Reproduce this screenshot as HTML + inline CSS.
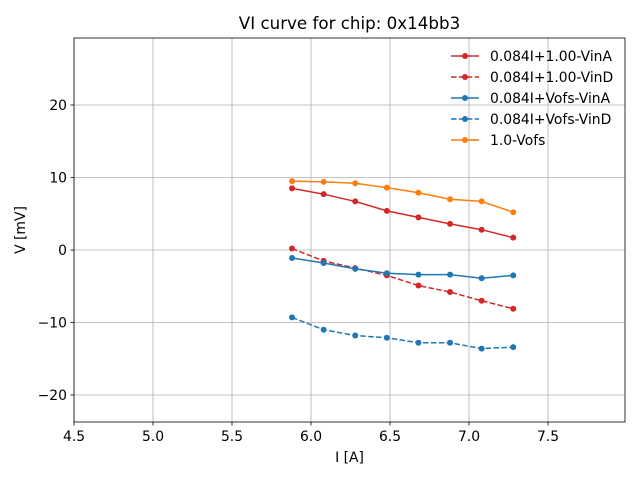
<!DOCTYPE html>
<html><head><meta charset="utf-8"><style>
body{margin:0;background:#fff;}
svg text{font-family:"DejaVu Sans","Liberation Sans",sans-serif;}
</style></head><body>
<svg id="chart" width="640" height="480" xmlns="http://www.w3.org/2000/svg">
<rect width="640" height="480" fill="#fff"/>
<g id="grid"></g>
<g id="series"></g>
<rect x="74" y="38" width="551" height="384" fill="none" stroke="#000" stroke-width="0.8"/>
<g id="ticks"></g>
<text x="349.5" y="29" font-size="16.7" text-anchor="middle">VI curve for chip: 0x14bb3</text>
<text x="349.5" y="462" font-size="13.9" text-anchor="middle">I [A]</text>
<text x="25" y="230" font-size="13.9" text-anchor="middle" transform="rotate(-90 25 230)">V [mV]</text>
<g id="legend"></g>
</svg>
<script>
const xs = [5.88, 6.08, 6.28, 6.48, 6.68, 6.88, 7.08, 7.28];
const redSolid = [8.5, 7.7, 6.7, 5.4, 4.5, 3.6, 2.8, 1.7];
const redDashed = [0.2, -1.5, -2.5, -3.5, -4.9, -5.8, -7.0, -8.1];
const blueSolid = [-1.1, -1.8, -2.6, -3.2, -3.4, -3.4, -3.9, -3.5];
const blueDashed = [-9.3, -11.0, -11.8, -12.1, -12.8, -12.8, -13.6, -13.4];
const orange = [9.5, 9.4, 9.2, 8.6, 7.9, 7.0, 6.7, 5.2];
const seriesNames = ["0.084I+1.00-VinA", "0.084I+1.00-VinD", "0.084I+Vofs-VinA", "0.084I+Vofs-VinD", "1.0-Vofs"];
const xTicks = [4.5, 5.0, 5.5, 6.0, 6.5, 7.0, 7.5];
const yTicks = [-20, -10, 0, 10, 20];

const X0=74, X1=625, Y0=38, Y1=422;
const xmin=4.5, xmax=4.5+551/158;
const ymin=-(422-250)/7.25, ymax=(250-38)/7.25;
const sx = v => X0 + (v-xmin)/(xmax-xmin)*(X1-X0);
const sy = v => Y1 - (v-ymin)/(ymax-ymin)*(Y1-Y0);
const NS="http://www.w3.org/2000/svg";
function mk(tag, attrs, parent){const e=document.createElementNS(NS,tag);for(const k in attrs)e.setAttribute(k,attrs[k]);parent.appendChild(e);return e;}
const grid=document.getElementById('grid'), ticks=document.getElementById('ticks');
xTicks.forEach(t=>{const x=sx(t);
 const g=mk('line',{x1:x,x2:x,y1:Y0,y2:Y1,stroke:'#b0b0b0','stroke-width':0.8},grid);
 
 
 mk('line',{x1:x,x2:x,y1:Y1,y2:Y1+3.5,stroke:'#000','stroke-width':0.8},ticks);
 const l=mk('text',{x:x,y:Y1+19,'font-size':13.9,'text-anchor':'middle'},ticks);l.textContent=t.toFixed(1);
 
 
});
yTicks.forEach(t=>{const y=sy(t);
 const g=mk('line',{x1:X0,x2:X1,y1:y,y2:y,stroke:'#b0b0b0','stroke-width':0.8},grid);
 
 
 mk('line',{x1:X0-3.5,x2:X0,y1:y,y2:y,stroke:'#000','stroke-width':0.8},ticks);
 const l=mk('text',{x:X0-7,y:y+5,'font-size':13.9,'text-anchor':'end'},ticks);l.textContent=(t<0?'\u2212'+(-t):t);
 
 
});
const ser=document.getElementById('series');
const defs=[[redSolid,'#d62728',''],[redDashed,'#d62728','5.5,2.4'],[blueSolid,'#1f77b4',''],[blueDashed,'#1f77b4','5.5,2.4'],[orange,'#ff7f0e','']];
defs.forEach((d,i)=>{
 const g=mk('g',{},ser);
 
 
 const pts=xs.map((x,j)=>sx(x)+','+sy(d[0][j])).join(' ');
 const p=mk('polyline',{points:pts,fill:'none',stroke:d[1],'stroke-width':1.5},g);
 if(d[2])p.setAttribute('stroke-dasharray',d[2]);
 xs.forEach((x,j)=>{const c=mk('circle',{cx:sx(x),cy:sy(d[0][j]),r:3,fill:d[1]},g);
  
  });
});
const leg=document.getElementById('legend');
defs.forEach((d,i)=>{const y=56+i*21;
 const g=mk('g',{},leg);
 
 
 const l=mk('line',{x1:451,x2:479,y1:y,y2:y,stroke:d[1],'stroke-width':1.5},g);
 if(d[2])l.setAttribute('stroke-dasharray',d[2]);
 mk('circle',{cx:465,cy:y,r:3,fill:d[1]},g);
 const t=mk('text',{x:490,y:y+5,'font-size':13.9},g);t.textContent=seriesNames[i];
});
</script>
</body></html>
